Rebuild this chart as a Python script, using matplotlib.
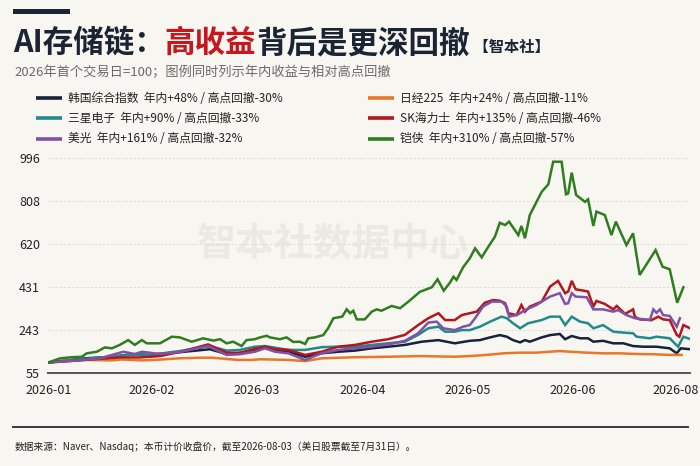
import matplotlib
matplotlib.use('Agg')
import matplotlib.pyplot as plt
from matplotlib.lines import Line2D
from matplotlib.patches import Rectangle

plt.rcParams['font.family'] = ['Noto Sans CJK SC', 'DejaVu Sans']

# ---------------- data (trading-day index, value with first trading day = 100) -------------
kospi_day = [0, 8.3, 14.4, 18.5, 23.0, 29.8, 36.6, 40.4, 43.4, 46.8, 49.1, 51.4, 54.4, 58.2, 61.9,
             65.7, 69.5, 73.3, 77.0, 80.8, 84.6, 88.4, 92.1, 95.5, 97.8, 100.1, 102.3, 103.9, 105.3,
             106.9, 108.0, 109.1, 111.8, 113.7, 115.9, 117.1, 118.6, 120.5, 122.3, 123.5, 125.7,
             128.0, 130.3, 132.5, 134.8, 137.8, 140.8, 142.4, 143.3, 145.4]
kospi_val = [100, 118, 125, 135, 134, 145, 158, 137, 142, 150, 166, 155, 147, 125, 140,
             147, 152, 162, 169, 177, 191, 198, 184, 195, 198, 210, 220, 213, 198,
             188, 198, 191, 210, 220, 225, 202, 216, 206, 206, 191, 195,
             184, 184, 172, 169, 169, 162, 140, 162, 158]

nikkei_day = [0, 3.8, 8.3, 14.4, 16.6, 21.2, 24.9, 29.5, 34.8, 37.0, 40.0, 43.0, 46.1, 48.0, 54.4,
              58.2, 61.9, 69.5, 77.0, 84.6, 92.1, 95.5, 99.3, 103.1, 106.9, 110.6, 115.9, 118.2,
              122.0, 125.7, 129.5, 133.3, 137.1, 140.8, 143.5]
nikkei_val = [100, 108, 111, 109, 113, 109, 112, 118, 121, 121, 116, 111, 111, 114, 111,
              106, 118, 123, 125, 128, 125, 128, 133, 140, 143, 143, 150, 147,
              143, 140, 140, 137, 136, 133, 133]

samsung_day = [0, 8.3, 14.4, 18.5, 23.0, 29.8, 36.6, 40.4, 43.4, 46.8, 49.1, 54.4, 58.2, 61.9, 65.0,
               69.5, 73.3, 77.0, 80.8, 83.8, 86.1, 88.4, 89.9, 92.1, 93.7, 95.5, 97.8, 100.1, 102.7,
               103.9, 105.3, 106.9, 108.7, 111.8, 113.7, 115.9, 117.1, 118.6, 120.5, 122.3, 123.5,
               125.7, 128.0, 130.3, 132.5, 133.3, 136.3, 137.8, 140.8, 142.7, 143.9, 145.4]
samsung_val = [100, 116, 125, 134, 133, 150, 172, 152, 155, 169, 172, 155, 155, 167, 169,
               169, 177, 184, 191, 221, 250, 257, 235, 235, 242, 242, 257, 279, 301,
               294, 272, 250, 272, 286, 301, 301, 264, 301, 279, 272, 250,
               264, 235, 231, 228, 213, 206, 213, 206, 169, 213, 203]

sk_day = [0, 4.9, 11.7, 16.2, 20.8, 25.3, 29.8, 36.2, 40.4, 43.4, 46.8, 49.1, 51.4, 54.4, 58.2,
          61.9, 65.7, 69.5, 73.3, 77.0, 80.8, 83.8, 86.1, 88.4, 89.9, 92.1, 93.7, 95.5, 97.1,
          98.9, 100.8, 102.3, 103.5, 104.2, 106.1, 107.2, 108.0, 109.1, 111.8, 113.7, 115.5,
          117.1, 117.8, 118.6, 119.5, 121.6, 122.3, 123.5, 124.2, 126.1, 128.0, 128.8, 130.7,
          132.5, 132.9, 134.0, 136.7, 138.2, 139.3, 140.8, 142.4, 143.0, 143.9, 145.4]
sk_val = [100, 106, 116, 122, 122, 128, 146, 179, 143, 142, 160, 169, 158, 155, 133,
          147, 169, 177, 191, 202, 221, 264, 294, 316, 286, 286, 308, 316, 323,
          362, 374, 371, 360, 316, 308, 352, 323, 345, 367, 433, 458,
          404, 411, 458, 421, 414, 411, 345, 370, 357, 333, 348, 313,
          333, 301, 289, 286, 301, 289, 286, 221, 213, 264, 250]

micron_day = [0, 7.2, 11.7, 17.0, 19.6, 21.2, 25.3, 29.8, 36.2, 40.4, 43.4, 46.8, 49.1, 51.4, 54.4,
              58.2, 61.9, 65.7, 69.5, 73.3, 77.0, 80.8, 83.8, 86.1, 88.0, 89.5, 92.1, 94.0, 95.5,
              96.7, 98.5, 100.5, 102.7, 103.9, 104.4, 106.1, 106.9, 108.0, 110.6, 111.8, 113.7,
              115.9, 117.1, 117.8, 118.6, 119.5, 122.0, 123.5, 125.7, 128.0, 129.1, 131.0, 132.9,
              136.3, 137.1, 137.8, 138.6, 139.3, 140.8, 142.4, 143.1]
micron_val = [100, 110, 118, 147, 137, 147, 137, 146, 172, 133, 136, 147, 162, 147, 140,
              111, 140, 155, 162, 169, 179, 195, 228, 275, 279, 250, 242, 257, 264,
              294, 345, 367, 367, 345, 301, 308, 316, 330, 352, 367, 389,
              404, 357, 360, 404, 389, 386, 333, 333, 323, 330, 308, 294,
              286, 333, 318, 333, 308, 304, 257, 294]

kioxia_day = [0, 2.7, 5.3, 7.6, 8.7, 11.0, 12.8, 14.4, 16.2, 18.1, 19.6, 21.2, 22.3, 25.3, 28.0,
              29.8, 32.5, 35.1, 37.4, 38.9, 40.4, 41.9, 43.8, 44.9, 46.8, 48.0, 49.5, 50.2, 52.5,
              54.0, 55.5, 57.0, 58.2, 58.9, 60.4, 62.3, 63.4, 64.6, 66.6, 67.6, 68.4, 69.1, 69.9,
              71.7, 73.3, 74.4, 75.5, 77.8, 79.7, 81.6, 84.2, 86.9, 88.2, 89.6, 91.0, 91.8, 92.5,
              94.0, 95.5, 96.7, 98.2, 99.7, 101.2, 102.3, 103.5, 104.4, 106.5, 107.2, 108.0, 109.1,
              111.8, 113.3, 114.4, 116.3, 117.3, 117.8, 118.6, 119.6, 121.6, 122.3, 123.5, 124.2,
              126.1, 127.6, 128.6, 131.0, 132.5, 134.0, 137.6, 139.2, 140.8, 142.5, 143.9]
kioxia_val = [100, 118, 123, 125, 140, 147, 166, 162, 177, 198, 177, 198, 184, 184, 213,
              210, 191, 206, 196, 202, 184, 191, 172, 198, 202, 210, 217, 210, 202,
              210, 190, 191, 181, 206, 210, 220, 250, 294, 301, 333, 316, 327, 289,
              289, 323, 333, 327, 348, 338, 367, 410, 430, 465, 415, 450, 476, 462,
              518, 557, 601, 561, 608, 652, 713, 703, 718, 659, 699, 645, 747,
              849, 882, 981, 981, 838, 842, 933, 835, 805, 816, 699, 762,
              747, 659, 718, 615, 667, 484, 593, 520, 509, 362, 430]

series_names = ['韩国综合指数', '日经225', '三星电子', 'SK海力士', '美光', '铠侠']
ytd_return = [48, 24, 90, 135, 161, 310]
peak_drawdown = [-30, -11, -33, -46, -32, -57]
series_days = [kospi_day, nikkei_day, samsung_day, sk_day, micron_day, kioxia_day]
series_vals = [kospi_val, nikkei_val, samsung_val, sk_val, micron_val, kioxia_val]
series_colors = ['#16233a', '#e8772a', '#23898a', '#b3161d', '#7f52a8', '#2f7d1f']

x_tick_pos = [0, 23.5, 47.3, 71.2, 95.1, 118.9, 142.2]
x_tick_labels = ['2026-01', '2026-02', '2026-03', '2026-04', '2026-05', '2026-06', '2026-08']
y_ticks = [55, 243, 431, 620, 808, 996]

BG = '#f8f6f1'
DARK = '#1a2433'
RED = '#c8161d'
W, H = 700, 466

fig = plt.figure(figsize=(7, 4.66), dpi=100, facecolor=BG)
ax = fig.add_axes([48.3 / W, 1 - 372.7 / H, (690 - 48.3) / W, (372.7 - 158.3) / H])
ax.set_facecolor(BG)

# watermark
ax.text(333 / W, 1 - 245 / H, '智本社数据中心', transform=fig.transFigure, ha='center', va='center',
        fontsize=28, fontweight='bold', color='#ebe9e4', zorder=0.2)

for d, v, c in zip(series_days, series_vals, series_colors):
    ax.plot(d, v, color=c, lw=1.8, solid_joinstyle='miter', zorder=3)

ax.set_xlim(0, 145.4)
ax.set_ylim(55, 996)
ax.set_yticks(y_ticks)
ax.set_yticklabels([str(t) for t in y_ticks])
ax.set_xticks(x_tick_pos)
ax.set_xticklabels(x_tick_labels)
ax.tick_params(axis='both', length=0, labelsize=9, labelcolor='#222222')
ax.tick_params(axis='y', pad=6)
ax.tick_params(axis='x', pad=8)
ax.grid(axis='y', color='#dedbd4', lw=0.7, ls=(0, (2, 2)))
ax.grid(axis='x', visible=False)
for s in ['top', 'right', 'left']:
    ax.spines[s].set_visible(False)
ax.spines['bottom'].set_color('#555555')
ax.spines['bottom'].set_linewidth(1.4)

# top accent bar
fig.add_artist(Rectangle((13 / W, 1 - 13.5 / H), 57 / W, 5 / H, transform=fig.transFigure,
                         facecolor=DARK, edgecolor='none'))

# title in pieces
renderer = fig.canvas.get_renderer()
title_parts = [('AI存储链：', DARK, 22), ('高收益', RED, 22), ('背后是更深回撤', DARK, 22),
               (' 【智本社】', DARK, 11)]
xcur = 13 / W
ybase = 1 - 52 / H
for txt, col, fs in title_parts:
    t = fig.text(xcur, ybase, txt, color=col, fontsize=fs, fontweight='bold', va='baseline', ha='left')
    bb = t.get_window_extent(renderer=renderer)
    xcur = bb.x1 / fig.bbox.width

fig.text(14 / W, 1 - 76 / H, '2026年首个交易日=100；图例同时列示年内收益与相对高点回撤',
         fontsize=9.5, color='#6b6b6b', va='baseline', ha='left')

# legend (row-major, two columns)
leg_rows_y = [98, 118, 139]
leg_cols_x = [36, 368]
for i, (name, r, dd, c) in enumerate(zip(series_names, ytd_return, peak_drawdown, series_colors)):
    row, col = divmod(i, 2)
    y = 1 - leg_rows_y[row] / H
    x0 = leg_cols_x[col] / W
    fig.add_artist(Line2D([x0, x0 + 26 / W], [y, y], transform=fig.transFigure, color=c, lw=2.6,
                          solid_capstyle='butt'))
    fig.text(x0 + 32 / W, y, f'{name}  年内+{r}% / 高点回撤{dd}%', fontsize=8.5, color='#222222',
             va='center', ha='left')

# bottom separator and source
fig.add_artist(Line2D([13 / W, 688 / W], [1 - 427 / H, 1 - 427 / H], transform=fig.transFigure,
                      color='#3a3a3a', lw=1.4))
fig.text(15 / W, 1 - 447 / H, '数据来源：Naver、Nasdaq；本币计价收盘价，截至2026-08-03（美日股票截至7月31日）。',
         fontsize=7, color='#222222', va='center', ha='left')

fig.savefig('out.png', dpi=100, facecolor=BG)
